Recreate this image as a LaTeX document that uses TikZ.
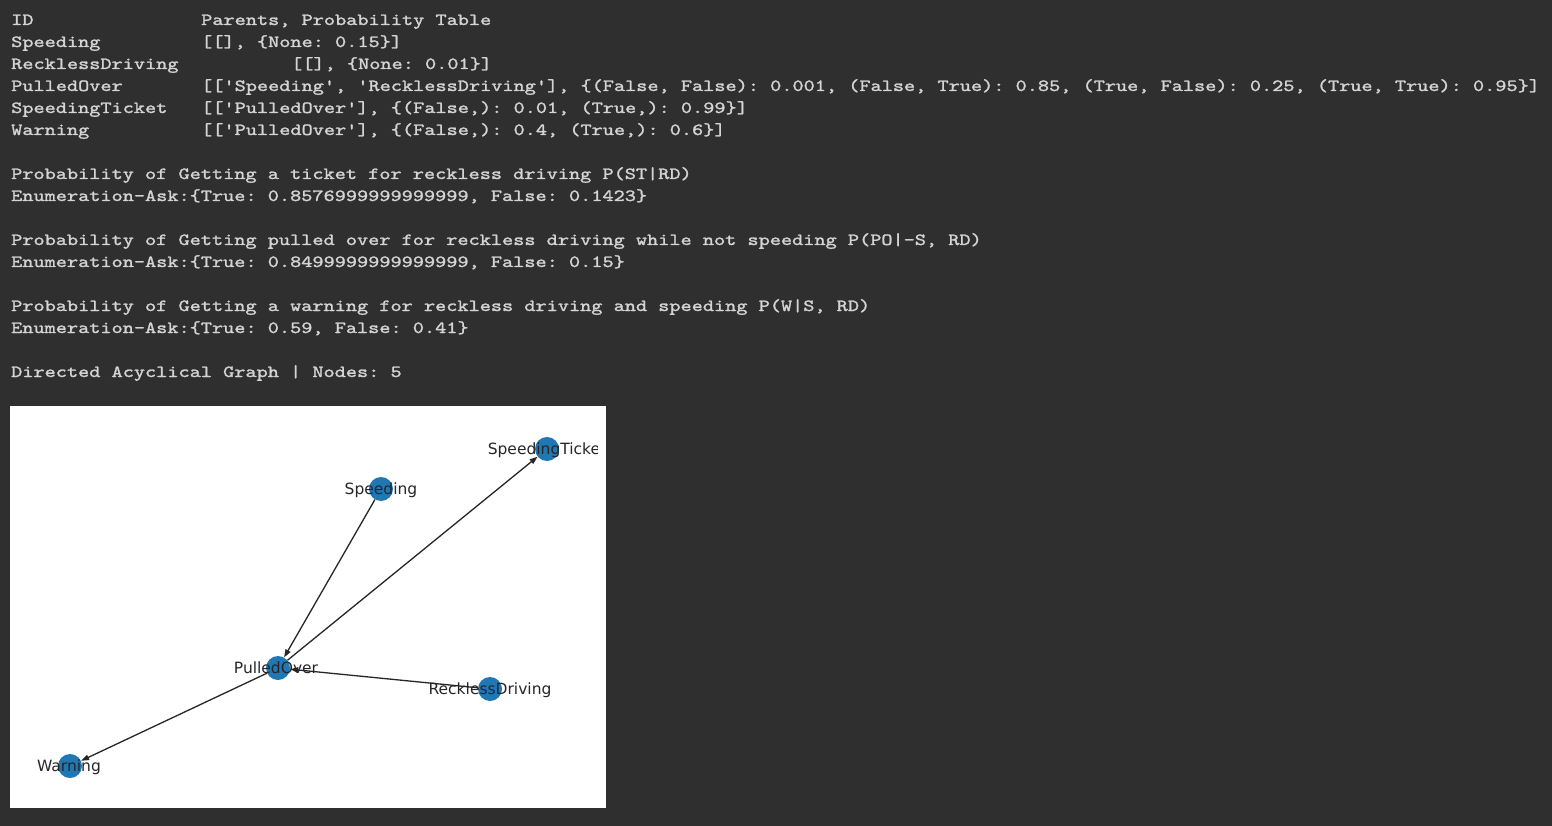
\documentclass[tikz,border=0pt]{standalone}
\usepackage{fontspec}
\setsansfont{DejaVu Sans}
\newfontfamily\consolefont{lmmono10-regular}[Extension=.otf, FakeStretch=1.25, FakeBold=1.5]
\usetikzlibrary{arrows.meta}

\definecolor{cellbg}{RGB}{47,47,47}
\definecolor{consoletext}{RGB}{212,212,212}
\definecolor{nodeblue}{RGB}{31,119,180}
\definecolor{edgegray}{RGB}{38,38,38}

\begin{document}
\frenchspacing
\begin{tikzpicture}[x=1pt, y=-1pt,
  console/.style={anchor=base west, inner sep=0pt, text=consoletext, font=\consolefont\fontsize{17}{17}\selectfont\frenchspacing},
  vertex/.style={circle, fill=nodeblue, minimum size=24pt, inner sep=0pt},
  vlabel/.style={anchor=base, inner sep=0pt, text=black!85, font=\sffamily\fontsize{15.5}{15.5}\selectfont},
  edge/.style={draw=edgegray, line width=1.3pt, -{Triangle[length=8pt,width=5.5pt]}}]

\useasboundingbox (0,0) rectangle (1552,826);
\fill[cellbg] (0,0) rectangle (1552,826);

% Table of the network
\node[console] (id) at (11,25) {ID};
\node[console] (head) at (201,25) {Parents, Probability Table};
\node[console] (rs) at (11,47) {Speeding};
\node[console] (ts) at (201,47) {[[], \{None: 0.15\}]};
\node[console] (rrd) at (11,69) {RecklessDriving};
\node[console] (trd) at (291,69) {[[], \{None: 0.01\}]};
\node[console] (rpo) at (11,91) {PulledOver};
\node[console] (tpo) at (201,91) {[['Speeding', 'RecklessDriving'], \{(False, False): 0.001, (False, True): 0.85, (True, False): 0.25, (True, True): 0.95\}]};
\node[console] (rst) at (11,113) {SpeedingTicket};
\node[console] (tst) at (201,113) {[['PulledOver'], \{(False,): 0.01, (True,): 0.99\}]};
\node[console] (rw) at (11,135) {Warning};
\node[console] (tw) at (201,135) {[['PulledOver'], \{(False,): 0.4, (True,): 0.6\}]};

% Queries
\node[console] (q1) at (11,179) {Probability of Getting a ticket for reckless driving P(ST|RD)};
\node[console] (a1) at (11,201) {Enumeration-Ask:\{True: 0.8576999999999999, False: 0.1423\}};
\node[console] (q2) at (11,245) {Probability of Getting pulled over for reckless driving while not speeding P(PO|-S, RD)};
\node[console] (a2) at (11,267) {Enumeration-Ask:\{True: 0.8499999999999999, False: 0.15\}};
\node[console] (q3) at (11,311) {Probability of Getting a warning for reckless driving and speeding P(W|S, RD)};
\node[console] (a3) at (11,333) {Enumeration-Ask:\{True: 0.59, False: 0.41\}};
\node[console] (dag) at (11,377) {Directed Acyclical Graph | Nodes: 5};

% Graph panel
\fill[white] (10,406) rectangle (606,808);

\node[vertex] (sp) at (381,489) {};
\node[vertex] (st) at (547,449) {};
\node[vertex] (po) at (278,668) {};
\node[vertex] (rd) at (490,689) {};
\node[vertex] (wa) at (70,766) {};

\draw[edge] (sp) -- (po);
\draw[edge] (rd) -- (po);
\draw[edge] (po) -- (st);
\draw[edge] (po) -- (wa);

\begin{scope}
\clip (10,406) rectangle (597,808);
\node[vlabel] (lsp) at (381,494.5) {Speeding};
\node[vlabel] (lst) at (547,454.5) {SpeedingTicket};
\node[vlabel] (lpo) at (276,673.5) {PulledOver};
\node[vlabel] (lrd) at (490,694.5) {RecklessDriving};
\node[vlabel] (lwa) at (69,771.5) {Warning};
\end{scope}

\end{tikzpicture}
\end{document}
